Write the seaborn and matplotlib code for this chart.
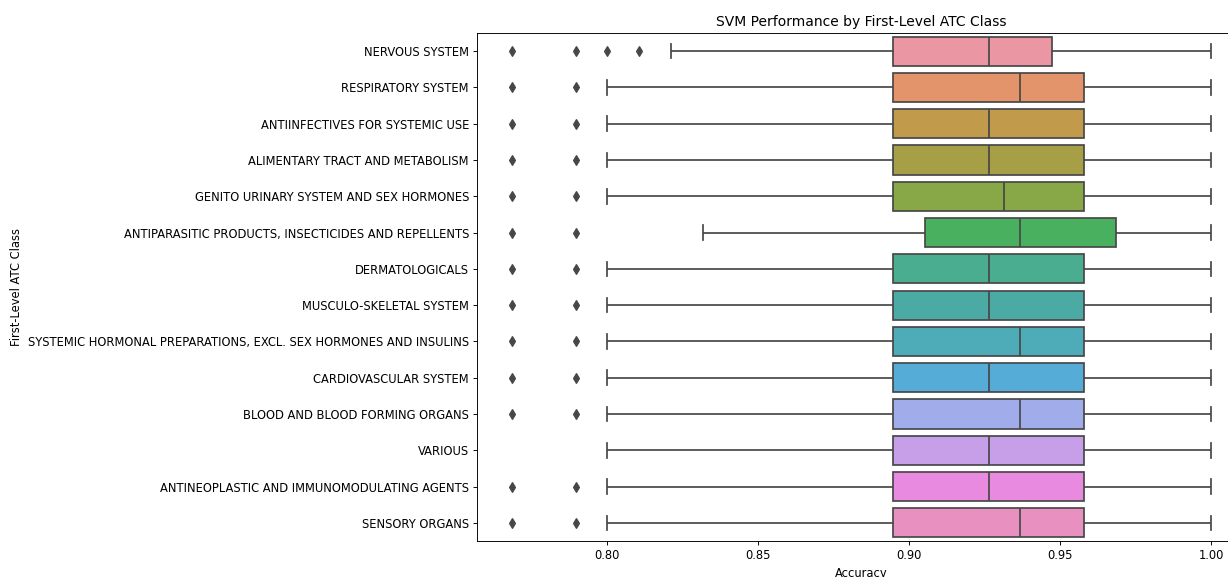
import pandas as pd
import matplotlib
matplotlib.use("Agg")
import matplotlib.pyplot as plt
import seaborn as sns

categories = [
    "NERVOUS SYSTEM",
    "RESPIRATORY SYSTEM",
    "ANTIINFECTIVES FOR SYSTEMIC USE",
    "ALIMENTARY TRACT AND METABOLISM",
    "GENITO URINARY SYSTEM AND SEX HORMONES",
    "ANTIPARASITIC PRODUCTS, INSECTICIDES AND REPELLENTS",
    "DERMATOLOGICALS",
    "MUSCULO-SKELETAL SYSTEM",
    "SYSTEMIC HORMONAL PREPARATIONS, EXCL. SEX HORMONES AND INSULINS",
    "CARDIOVASCULAR SYSTEM",
    "BLOOD AND BLOOD FORMING ORGANS",
    "VARIOUS",
    "ANTINEOPLASTIC AND IMMUNOMODULATING AGENTS",
    "SENSORY ORGANS",
]

# per-fold accuracy of the SVM for each ATC class (test folds of 95 drugs)
nervous = [0.7684, 0.7895, 0.8000, 0.8105, 0.8211, 0.8947, 0.9053, 0.9053, 0.9158, 0.9158, 0.9263,
           0.9263, 0.9368, 0.9368, 0.9474, 0.9474, 0.9579, 0.9684, 0.9789, 0.9895, 1.0000]
respiratory = [0.7684, 0.7895, 0.8000, 0.8842, 0.8947, 0.8947, 0.9053, 0.9158, 0.9263, 0.9263, 0.9368,
               0.9368, 0.9474, 0.9474, 0.9579, 0.9579, 0.9684, 0.9789, 0.9895, 1.0000, 1.0000]
antiinfectives = [0.7684, 0.7895, 0.8000, 0.8842, 0.8947, 0.8947, 0.9053, 0.9053, 0.9158, 0.9158, 0.9263,
                  0.9263, 0.9368, 0.9368, 0.9474, 0.9579, 0.9579, 0.9684, 0.9789, 0.9895, 1.0000]
alimentary = [0.7684, 0.7895, 0.8000, 0.8737, 0.8947, 0.8947, 0.9053, 0.9158, 0.9158, 0.9263, 0.9263,
              0.9368, 0.9368, 0.9474, 0.9474, 0.9579, 0.9684, 0.9684, 0.9789, 0.9895, 1.0000]
genito = [0.7684, 0.7895, 0.8000, 0.8737, 0.8842, 0.8947, 0.8947, 0.9053, 0.9158, 0.9158, 0.9263,
          0.9368, 0.9368, 0.9474, 0.9474, 0.9579, 0.9579, 0.9684, 0.9684, 0.9789, 0.9895, 1.0000]
antiparasitic = [0.7684, 0.7895, 0.8316, 0.8842, 0.8947, 0.9053, 0.9158, 0.9158, 0.9263, 0.9263, 0.9368,
                 0.9368, 0.9474, 0.9579, 0.9579, 0.9684, 0.9684, 0.9789, 0.9895, 1.0000, 1.0000]
dermatologicals = [0.7684, 0.7895, 0.8000, 0.8632, 0.8842, 0.8947, 0.9053, 0.9053, 0.9158, 0.9263, 0.9263,
                   0.9368, 0.9368, 0.9474, 0.9474, 0.9579, 0.9579, 0.9684, 0.9789, 1.0000, 1.0000]
musculo = [0.7684, 0.7895, 0.8000, 0.8842, 0.8947, 0.8947, 0.9053, 0.9158, 0.9158, 0.9263, 0.9263,
           0.9263, 0.9368, 0.9474, 0.9474, 0.9579, 0.9684, 0.9789, 0.9895, 0.9895, 1.0000]
systemic_hormonal = [0.7684, 0.7895, 0.8000, 0.8737, 0.8947, 0.8947, 0.9053, 0.9158, 0.9263, 0.9263, 0.9368,
                     0.9368, 0.9368, 0.9474, 0.9579, 0.9579, 0.9684, 0.9684, 0.9789, 0.9895, 1.0000]
cardiovascular = [0.7684, 0.7895, 0.8000, 0.8842, 0.8947, 0.8947, 0.9053, 0.9053, 0.9158, 0.9158, 0.9263,
                  0.9263, 0.9368, 0.9474, 0.9474, 0.9579, 0.9579, 0.9684, 0.9789, 0.9895, 1.0000]
blood = [0.7684, 0.7895, 0.8000, 0.8842, 0.8947, 0.8947, 0.9053, 0.9158, 0.9158, 0.9263, 0.9368,
         0.9368, 0.9474, 0.9474, 0.9579, 0.9579, 0.9684, 0.9789, 0.9789, 0.9895, 1.0000]
various = [0.8000, 0.8526, 0.8737, 0.8842, 0.8947, 0.8947, 0.9053, 0.9158, 0.9158, 0.9263, 0.9263,
           0.9368, 0.9368, 0.9474, 0.9474, 0.9579, 0.9684, 0.9684, 0.9789, 0.9895, 1.0000]
antineoplastic = [0.7684, 0.7895, 0.8000, 0.8737, 0.8842, 0.8947, 0.9053, 0.9053, 0.9158, 0.9263, 0.9263,
                  0.9263, 0.9368, 0.9474, 0.9579, 0.9579, 0.9579, 0.9684, 0.9789, 0.9895, 1.0000]
sensory = [0.7684, 0.7895, 0.8000, 0.8842, 0.8947, 0.8947, 0.9053, 0.9053, 0.9158, 0.9263, 0.9368,
           0.9368, 0.9474, 0.9474, 0.9579, 0.9579, 0.9684, 0.9789, 0.9895, 1.0000, 1.0000]

scores = [nervous, respiratory, antiinfectives, alimentary, genito, antiparasitic,
          dermatologicals, musculo, systemic_hormonal, cardiovascular, blood, various,
          antineoplastic, sensory]

df = pd.DataFrame(
    [(cat, acc) for cat, vals in zip(categories, scores) for acc in vals],
    columns=["atc_class", "accuracy"],
)

gray = "#474747"
fig = plt.figure(figsize=(1228 / 83, 577 / 83), dpi=83)
ax = fig.add_axes([477 / 1228, 1 - 541 / 577, 769 / 1228, 508 / 577])
sns.boxplot(
    data=df, x="accuracy", y="atc_class", hue="atc_class", order=categories,
    palette=sns.husl_palette(len(categories), l=.7), saturation=0.75,
    whis=1.51, width=0.8, linewidth=1.5, linecolor=gray, legend=False,
    flierprops=dict(marker="d", markerfacecolor=gray, markeredgecolor=gray, markersize=6),
    ax=ax,
)
ax.set_title("SVM Performance by First-Level ATC Class")
ax.set_xlabel("Accuracy")
ax.set_ylabel("First-Level ATC Class")
fig.savefig("out.png", dpi=83)
